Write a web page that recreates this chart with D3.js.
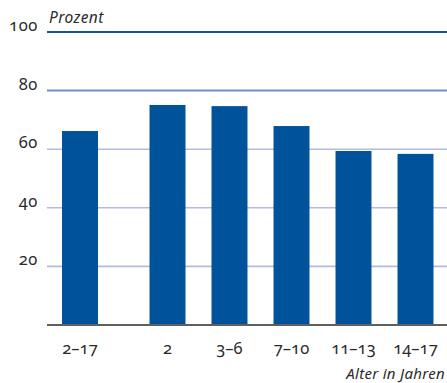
<!DOCTYPE html>
<html>
<head>
<meta charset="utf-8">
<script src="https://cdn.jsdelivr.net/npm/d3@7"></script>
<style>
  body { margin: 0; background: #fff; }
  svg text { font-family: "Noto Sans", "Open Sans", sans-serif; fill: #2b2b2b; font-variant-numeric: oldstyle-nums; }
</style>
</head>
<body>
<svg id="chart" width="447" height="383"></svg>
<script>
var categories = ["2–17", "2", "3–6", "7–10", "11–13", "14–17"]
var values = [66.2, 75.1, 74.7, 67.9, 59.4, 58.4]
var yTicks = [20, 40, 60, 80, 100]
var gridColors = { 20: "#b3bbdf", 40: "#b3bbdf", 60: "#b3bbdf", 80: "#6f8fcc", 100: "#0e56a6" }

var plotLeft = 47, plotRight = 447, plotTop = 32, plotBottom = 325
var groupGap = 25.5 // extra room between the total bar and the age groups

var svg = d3.select("#chart")

var y = d3.scaleLinear().domain([0, 100]).range([plotBottom, plotTop])
var x = d3.scaleBand()
  .domain(categories)
  .range([49, 49 + 62 * categories.length])
  .paddingInner(0.42)
  .paddingOuter(0.21)

function barX(d, i) {
  return x(d) + (i > 0 ? groupGap : 0)
}

// grid lines
svg.append("g")
  .selectAll("line")
  .data(yTicks)
  .enter()
  .append("line")
  .attr("x1", plotLeft)
  .attr("x2", plotRight)
  .attr("y1", function(d) { return y(d) })
  .attr("y2", function(d) { return y(d) })
  .attr("stroke", function(d) { return gridColors[d] })
  .attr("stroke-width", function(d) { return d >= 80 ? 2 : 1.6 })

// y labels
svg.append("g")
  .selectAll("text")
  .data(yTicks)
  .enter()
  .append("text")
  .attr("x", 38)
  .attr("y", function(d) { return y(d) - 1 })
  .attr("text-anchor", "end")
  .attr("font-size", "16.5px")
  .attr("letter-spacing", "0.6px")
  .text(function(d) { return d })

// bars
svg.append("g")
  .selectAll("rect")
  .data(values)
  .enter()
  .append("rect")
  .attr("x", function(d, i) { return barX(categories[i], i) })
  .attr("width", x.bandwidth())
  .attr("y", function(d) { return y(d) })
  .attr("height", function(d) { return y(0) - y(d) })
  .attr("fill", "#00529b")

// baseline
svg.append("line")
  .attr("x1", plotLeft)
  .attr("x2", plotRight)
  .attr("y1", y(0))
  .attr("y2", y(0))
  .attr("stroke", "#5f5f5f")
  .attr("stroke-width", 2)

// x labels
svg.append("g")
  .selectAll("text")
  .data(categories)
  .enter()
  .append("text")
  .attr("x", function(d, i) { return barX(d, i) + x.bandwidth() / 2 })
  .attr("y", 354)
  .attr("text-anchor", "middle")
  .attr("font-size", "16.5px")
  .text(function(d) { return d })

svg.append("text")
  .attr("x", 49)
  .attr("y", 23)
  .attr("font-size", "15.5px")
  .attr("font-style", "italic")
  .attr("letter-spacing", "0.4px")
  .text("Prozent")

svg.append("text")
  .attr("x", 445)
  .attr("y", 379)
  .attr("text-anchor", "end")
  .attr("font-size", "15px")
  .attr("font-style", "italic")
  .attr("letter-spacing", "0.3px")
  .text("Alter in Jahren")
</script>
</body>
</html>
